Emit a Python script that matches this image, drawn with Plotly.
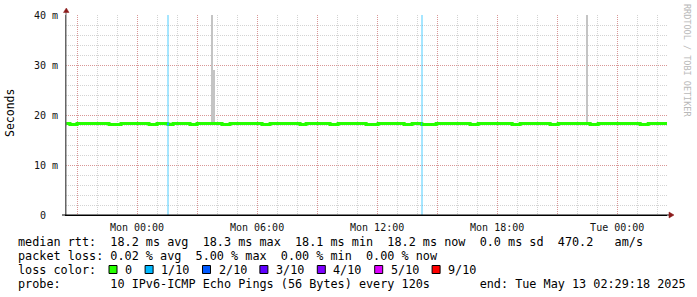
import plotly.graph_objects as go
import pandas as pd

# ---------------- data ----------------
x_start = "2025-05-11 20:27:00"
x_end = "2025-05-13 02:29:18"

median_times = [
    "2025-05-11 20:27:00", "2025-05-11 20:39:00", "2025-05-11 21:00:00", "2025-05-11 22:36:00",
    "2025-05-11 23:12:00", "2025-05-12 00:36:00", "2025-05-12 01:00:00", "2025-05-12 01:30:00",
    "2025-05-12 01:36:00", "2025-05-12 01:48:00", "2025-05-12 02:39:00", "2025-05-12 03:00:00",
    "2025-05-12 04:15:00", "2025-05-12 04:39:00", "2025-05-12 06:15:00", "2025-05-12 06:39:00",
    "2025-05-12 08:09:00", "2025-05-12 08:27:00", "2025-05-12 09:39:00", "2025-05-12 10:03:00",
    "2025-05-12 11:27:00", "2025-05-12 12:03:00", "2025-05-12 13:21:00", "2025-05-12 13:45:00",
    "2025-05-12 14:12:00", "2025-05-12 14:15:00", "2025-05-12 14:57:00", "2025-05-12 16:39:00",
    "2025-05-12 17:03:00", "2025-05-12 18:45:00", "2025-05-12 19:09:00", "2025-05-12 20:39:00",
    "2025-05-12 21:03:00", "2025-05-12 22:39:00", "2025-05-12 23:03:00", "2025-05-13 01:09:00",
    "2025-05-13 01:33:00", "2025-05-13 02:29:18",
]
median_ms = [
    18.3, 18.1, 18.3, 18.1,
    18.3, 18.1, 18.3, 18.2,
    18.1, 18.3, 18.1, 18.3,
    18.1, 18.3, 18.1, 18.3,
    18.1, 18.3, 18.1, 18.3,
    18.1, 18.3, 18.1, 18.3,
    18.2, 18.1, 18.3, 18.1,
    18.3, 18.1, 18.3, 18.1,
    18.3, 18.1, 18.3, 18.1,
    18.3, 18.3,
]

# loss events (start, minutes, lost pings of 10)
loss_times = ["2025-05-12 01:30:00", "2025-05-12 14:12:00"]
loss_minutes = [6, 3]
loss_count = [1, 1]

# smoke (max ping) spikes
smoke_times = ["2025-05-12 03:42:00", "2025-05-12 03:48:00", "2025-05-12 22:27:00"]
smoke_minutes = [6, 3, 6]
smoke_max_ms = [48.0, 29.0, 48.0]

y_tick_vals = [0, 10, 20, 30, 40]
y_tick_text = ["0\u00a0\u00a0", "10 m", "20 m", "30 m", "40 m"]
x_tick_labels = {"2025-05-12 00:00": "Mon 00:00", "2025-05-12 06:00": "Mon 06:00",
                 "2025-05-12 12:00": "Mon 12:00", "2025-05-12 18:00": "Mon 18:00",
                 "2025-05-13 00:00": "Tue 00:00"}

stat_rtt = [18.2, 18.3, 18.1, 18.2]
stat_rtt_sd = 0.0
stat_am = 470.2
stat_loss = [0.02, 5.00, 0.00, 0.00]

loss_labels = ["0", "1/10", "2/10", "3/10", "4/10", "5/10", "9/10"]
loss_colors = ["#26ff00", "#00b8ff", "#0059ff", "#5e00ff", "#7e00ff", "#dd00ff", "#ff0000"]

probe_text = "10 IPv6-ICMP Echo Pings (56 Bytes) every 120s"
end_text = "end: Tue May 13 02:29:18 2025"

# ---------------- layout constants ----------------
W, H = 697, 297
L, R, T, B = 66, 30, 15, 82
PW, PH = W - L - R, H - T - B
Y_MAX = 40
MONO = "DejaVu Sans Mono"


def px(x):
    return (x - L) / PW


def py(y):
    return (H - B - y) / PH


def nb(s):
    return s.replace(" ", "\u00a0")


fig = go.Figure()

# loss stripes
fig.add_trace(go.Bar(
    x=loss_times, y=[Y_MAX * 1.2] * len(loss_times),
    width=[m * 60000 for m in loss_minutes], offset=0,
    marker=dict(color=[loss_colors[c] for c in loss_count], opacity=0.35, line_width=0),
    hoverinfo="skip", showlegend=False))

# smoke
med = pd.Series(median_ms, index=pd.to_datetime(median_times, format="mixed"))
smoke_base = [float(med.asof(pd.Timestamp(t))) for t in smoke_times]
fig.add_trace(go.Bar(
    x=smoke_times, base=smoke_base,
    y=[m - b for m, b in zip(smoke_max_ms, smoke_base)],
    width=[m * 60000 for m in smoke_minutes], offset=0,
    marker=dict(color="#c4c4c4", line_width=0),
    hoverinfo="skip", showlegend=False))

# median line
fig.add_trace(go.Scatter(
    x=median_times, y=median_ms, mode="lines", line=dict(color=loss_colors[0], width=3, shape="hv"),
    hoverinfo="skip", showlegend=False))

# median coloured by loss
for t, m, c in zip(loss_times, loss_minutes, loss_count):
    t0 = pd.Timestamp(t)
    t1 = t0 + pd.Timedelta(minutes=m)
    v = float(med.asof(t0))
    fig.add_trace(go.Scatter(
        x=[t0, t1], y=[v, v], mode="lines", line=dict(color=loss_colors[c], width=3),
        hoverinfo="skip", showlegend=False))

major_grid = "rgba(225,70,70,0.42)"
minor_grid = "rgba(150,150,150,0.42)"
GDASH = "1px,1px"

x_ticks = pd.date_range("2025-05-11 21:00", "2025-05-13 00:00", freq="3h")
fig.update_xaxes(
    type="date", range=[x_start, x_end],
    tickvals=list(x_ticks),
    ticktext=[x_tick_labels.get(t.strftime("%Y-%m-%d %H:%M"), "") for t in x_ticks],
    showgrid=True, gridcolor=major_grid, griddash=GDASH, gridwidth=1,
    minor=dict(dtick=3600000, tick0="2025-05-11 00:00", showgrid=True,
               gridcolor=minor_grid, griddash=GDASH, gridwidth=1),
    showline=True, linecolor="#000", linewidth=1,
    ticks="", tickfont=dict(family=MONO, size=10, color="#111"),
    ticklabelstandoff=3, zeroline=False, fixedrange=True,
)
fig.update_yaxes(
    range=[0, Y_MAX], tickvals=y_tick_vals, ticktext=y_tick_text,
    showgrid=True, gridcolor=major_grid, griddash=GDASH, gridwidth=1,
    minor=dict(dtick=2, showgrid=True, gridcolor=minor_grid, griddash=GDASH, gridwidth=1),
    showline=True, linecolor="#666", linewidth=1,
    ticks="", tickfont=dict(family=MONO, size=10, color="#111"),
    ticklabelstandoff=5, zeroline=False, fixedrange=True,
)

shapes = []
# axis extensions and arrows
shapes.append(dict(type="line", xref="paper", yref="paper", x0=px(66), x1=px(66), y0=py(215), y1=py(10),
                   line=dict(color="#666", width=1)))
shapes.append(dict(type="line", xref="paper", yref="paper", x0=px(62), x1=px(670), y0=py(215), y1=py(215),
                   line=dict(color="#000", width=1)))
shapes.append(dict(type="path", xref="paper", yref="paper",
                   path=f"M {px(63.5)} {py(12.5)} L {px(69)} {py(12.5)} L {px(66.3)} {py(8)} Z",
                   fillcolor="#8b1a1a", line=dict(color="#8b1a1a", width=0.5)))
shapes.append(dict(type="path", xref="paper", yref="paper",
                   path=f"M {px(669)} {py(212)} L {px(669)} {py(218)} L {px(674)} {py(215)} Z",
                   fillcolor="#8b1a1a", line=dict(color="#8b1a1a", width=0.5)))

annotations = []
LX = 16
line1 = (f"median rtt:  {stat_rtt[0]:.1f} ms avg  {stat_rtt[1]:.1f} ms max  {stat_rtt[2]:.1f} ms min  "
         f"{stat_rtt[3]:.1f} ms now  {stat_rtt_sd:.1f} ms sd  {stat_am:.1f}   am/s")
line2 = (f"packet loss: {stat_loss[0]:.2f} % avg  {stat_loss[1]:.2f} % max  {stat_loss[2]:.2f} % min  "
         f"{stat_loss[3]:.2f} % now")
line4 = f"probe:       {probe_text}       {end_text}"
for txt, yc in [(line1, 241.5), (line2, 255.5), ("loss color:", 269.5), (line4, 283.5)]:
    annotations.append(dict(text=nb(txt), xref="paper", yref="paper", x=px(LX), y=py(yc),
                            xanchor="left", yanchor="middle", showarrow=False,
                            font=dict(family=MONO, size=11.8, color="#000")))

sq = 109.0
CW = 7.1
for lab, col in zip(loss_labels, loss_colors):
    shapes.append(dict(type="rect", xref="paper", yref="paper", x0=px(sq), x1=px(sq + 8),
                       y0=py(273.5), y1=py(265.5), fillcolor=col, line=dict(color="#000", width=1)))
    tx = sq + 14
    annotations.append(dict(text=nb(lab), xref="paper", yref="paper", x=px(tx), y=py(269.5),
                            xanchor="left", yanchor="middle", showarrow=False,
                            font=dict(family=MONO, size=11.8, color="#000")))
    sq = tx + len(lab) * CW + 15

annotations.append(dict(text="Seconds", xref="paper", yref="paper", x=px(10), y=py(113),
                        xanchor="center", yanchor="middle", textangle=-90, showarrow=False,
                        font=dict(family=MONO, size=11.5, color="#000")))
annotations.append(dict(text=nb("RRDTOOL / TOBI OETIKER"), xref="paper", yref="paper", x=px(687), y=py(60),
                        xanchor="center", yanchor="middle", textangle=90, showarrow=False,
                        font=dict(family=MONO, size=8.5, color="#b8b8b8")))

fig.update_layout(
    width=W, height=H, margin=dict(l=L, r=R, t=T, b=B, autoexpand=False),
    paper_bgcolor="#fff", plot_bgcolor="#fff", barmode="overlay", bargap=0,
    shapes=shapes, annotations=annotations, showlegend=False,
)

fig.write_html("out.html")
